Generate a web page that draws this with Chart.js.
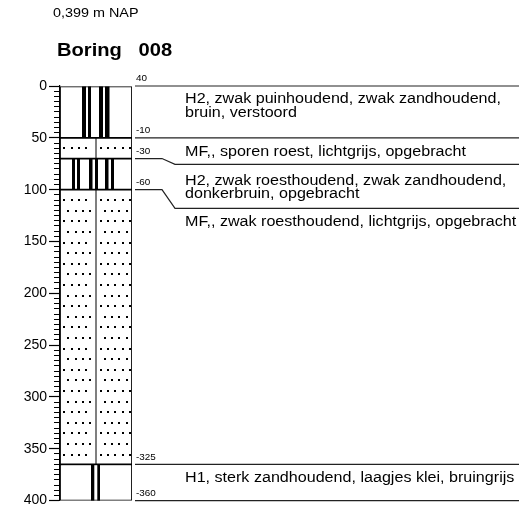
<!DOCTYPE html>
<html>
<head>
<meta charset="utf-8">
<script src="https://cdn.jsdelivr.net/npm/chart.js@4.4.0/dist/chart.umd.min.js"></script>
<style>
  html, body { margin: 0; padding: 0; background: #fff; }
  #wrap { width: 521px; height: 511px; }
</style>
</head>
<body>
<div id="wrap"><canvas id="boring"></canvas></div>
<script>
// gegevens boring
const maaiveldNAP = 0.399; // m t.o.v. NAP
const boringNaam = 'Boring   008';
const laagBoven = [0, 50, 70, 100, 365];   // cm -mv
const laagOnder = [50, 70, 100, 365, 400];
const laagCode = ['H2', 'MF', 'H2', 'MF', 'H1'];
const laagOmschrijving = [
  ['H2, zwak puinhoudend, zwak zandhoudend,', 'bruin, verstoord'],
  ['MF,, sporen roest, lichtgrijs, opgebracht'],
  ['H2, zwak roesthoudend, zwak zandhoudend,', 'donkerbruin, opgebracht'],
  ['MF,, zwak roesthoudend, lichtgrijs, opgebracht'],
  ['H1, sterk zandhoudend, laagjes klei, bruingrijs']
];
const diepteLabels = [0, 50, 100, 150, 200, 250, 300, 350, 400];

// arcering per laag (px vanaf linkerkant kolom)
const arcering = [
  { soort: 'strepen', strepen: [[22, 26], [28, 31], [39, 43], [45, 49.5]] },
  { soort: 'punten' },
  { soort: 'strepen', strepen: [[12, 15], [17, 20], [29, 32.5], [35, 38], [45, 48.5], [51, 54]] },
  { soort: 'punten' },
  { soort: 'strepen', strepen: [[31, 34.3], [37.3, 40]] }
];

const FONT = 'Arial, "Liberation Sans", sans-serif';

function tekst(ctx, str, x, y, font, sx = 1.15) {
  ctx.save();
  ctx.font = font;
  ctx.textBaseline = 'middle';
  ctx.textAlign = 'left';
  ctx.fillStyle = '#000';
  ctx.translate(x, y);
  ctx.scale(sx, 1);
  ctx.fillText(str, 0, 0);
  ctx.restore();
}

function tekenPunten(ctx, left, right, top, bottom) {
  const midden = (left + right) / 2;
  const dy = 10.6, dx = 7.3;
  let rij = 0;
  for (let yy = top + dy; yy < bottom - 2; yy += dy, rij++) {
    const start = left + 4.3 + (rij % 2 ? 4 : 0);
    for (let xx = start; xx < right - 1.5; xx += dx) {
      if (Math.abs(xx - midden) < 3.2) continue;
      ctx.fillRect(Math.round(xx) - 1, Math.round(yy) - 1, 2, 2);
    }
  }
  ctx.fillRect(Math.round(midden) - 0.5, top, 1, bottom - top);
}

const boorstaat = {
  id: 'boorstaat',
  afterDatasetsDraw(chart) {
    const ctx = chart.ctx;
    ctx.save();
    ctx.fillStyle = '#000';
    chart.data.datasets.forEach((ds, i) => {
      const el = chart.getDatasetMeta(i).data[0];
      const p = el.getProps(['x', 'y', 'base', 'width'], true);
      const left = p.x - p.width / 2, right = p.x + p.width / 2;
      const top = Math.min(p.y, p.base), bottom = Math.max(p.y, p.base);
      const a = arcering[i];
      if (a.soort === 'punten') {
        tekenPunten(ctx, left, right, top, bottom);
      } else {
        a.strepen.forEach(([s, e]) => ctx.fillRect(left + s, top, e - s, bottom - top));
      }
    });
    ctx.restore();
  },
  afterDraw(chart) {
    const ctx = chart.ctx;
    const y = chart.scales.y;
    const xStart = chart.chartArea.right + 3;
    const xEind = 519;
    const regelAfstand = 13.3;

    tekst(ctx, maaiveldNAP.toFixed(3).replace('.', ',') + ' m NAP', 53, 14, '12.5px ' + FONT);
    tekst(ctx, boringNaam, 57, 51, 'bold 17.5px ' + FONT);

    ctx.save();
    ctx.strokeStyle = '#222';
    ctx.lineWidth = 1.2;
    let vorigeOnder = -Infinity;
    laagBoven.forEach((boven, i) => {
      const yTop = y.getPixelForValue(boven);
      const yBot = y.getPixelForValue(laagOnder[i]);
      const regels = laagOmschrijving[i];
      const boxTop = Math.max(yTop, vorigeOnder);
      const nodig = 9 + 17.5 * regels.length;
      const boxBot = Math.max(yBot, boxTop + nodig);

      ctx.beginPath();
      ctx.moveTo(xStart, yTop);
      if (boxTop > yTop + 0.5) {
        ctx.lineTo(162, yTop);
        ctx.lineTo(175, boxTop);
      }
      ctx.lineTo(xEind, boxTop);
      ctx.stroke();

      tekst(ctx, String(Math.round(maaiveldNAP * 100 - boven)), xStart + 1, yTop - 7, '9px ' + FONT, 1.1);

      // tekst bovenaan, of gecentreerd als het vak door de tekst is vergroot
      let eerste = boxTop + 13.5;
      if (boxTop + nodig > yBot) {
        eerste = (boxTop + boxBot) / 2 + 1.5 - (regels.length - 1) * regelAfstand / 2;
      }
      regels.forEach((r, k) => tekst(ctx, r, 185, eerste + k * regelAfstand, '14px ' + FONT));
      vorigeOnder = boxBot;
    });
    const laatste = laagOnder[laagOnder.length - 1];
    const yEind = y.getPixelForValue(laatste);
    ctx.beginPath();
    ctx.moveTo(xStart, yEind);
    ctx.lineTo(xEind, yEind);
    ctx.stroke();
    tekst(ctx, String(Math.round(maaiveldNAP * 100 - laatste)), xStart + 1, yEind - 7, '9px ' + FONT, 1.1);
    ctx.restore();
  }
};

new Chart(document.getElementById('boring'), {
  type: 'bar',
  data: {
    labels: ['008'],
    datasets: laagCode.map((code, i) => ({
      label: code,
      data: [[laagBoven[i], laagOnder[i]]],
      backgroundColor: '#fff',
      borderColor: '#000',
      borderWidth: 1.2,
      borderSkipped: false,
      barPercentage: 1,
      categoryPercentage: 1
    }))
  },
  options: {
    responsive: true,
    maintainAspectRatio: false,
    animation: false,
    layout: { padding: { top: 86, right: 389, bottom: 9, left: 0 } },
    plugins: { legend: { display: false }, tooltip: { enabled: false } },
    scales: {
      x: { display: false, stacked: true },
      y: {
        position: 'left',
        weight: 1,
        reverse: true,
        min: 0,
        max: 400,
        stacked: false,
        afterFit(s) { s.width = 60; },
        afterBuildTicks(s) { s.ticks = diepteLabels.map(v => ({ value: v })); },
        ticks: { color: '#000', font: { family: FONT, size: 14 }, padding: 2, autoSkip: false },
        grid: { drawOnChartArea: false, tickLength: 11, color: '#000', tickWidth: 1.2 },
        border: { color: '#000', width: 1.2 }
      },
      yKlein: {
        position: 'left',
        weight: 0,
        reverse: true,
        min: 0,
        max: 400,
        afterFit(s) { s.width = 0; },
        ticks: { stepSize: 5, display: false },
        grid: { drawOnChartArea: false, tickLength: 6, color: '#000', tickWidth: 1 },
        border: { display: false }
      }
    }
  },
  plugins: [boorstaat]
});
</script>
</body>
</html>
